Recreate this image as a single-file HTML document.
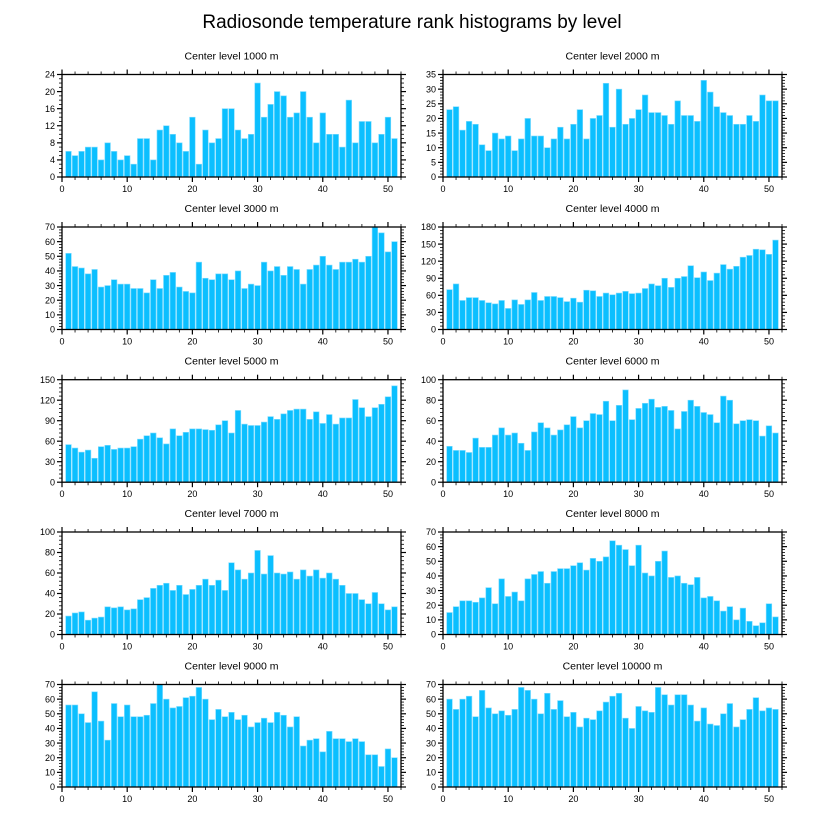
<!DOCTYPE html>
<html><head><meta charset="utf-8"><style>
html,body{margin:0;padding:0;background:#fff;}
svg{display:block;font-family:"Liberation Sans",sans-serif;}
</style></head><body>
<svg id="chart" width="824" height="824" viewBox="0 0 824 824" xmlns="http://www.w3.org/2000/svg">
<rect width="824" height="824" fill="#fff"/>
<text x="412" y="28" text-anchor="middle" font-size="19">Radiosonde temperature rank histograms by level</text>
</svg>
<script>
const levels = ["1000","2000","3000","4000","5000","6000","7000","8000","9000","10000"];
const yMaxes = [24,35,70,180,150,100,100,70,70,70];
const ySteps = [4,5,10,30,30,20,20,10,10,10];
const xTicks = [0,10,20,30,40,50];
const counts1000 = [6,5,6,7,7,4,8,6,4,5,3,9,9,4,11,12,10,8,6,14,3,11,8,9,16,16,11,9,10,22,14,17,20,19,14,15,20,14,8,15,10,10,7,18,8,13,13,8,10,14,9];
const counts2000 = [23,24,16,19,18,11,9,15,13,14,9,13,20,14,14,10,13,17,13,18,23,13,20,21,32,17,30,18,20,23,28,22,22,21,18,26,21,21,19,33,29,24,22,21,18,18,21,19,28,26,26];
const counts3000 = [52,43,42,38,41,29,30,34,31,31,28,28,25,34,28,37,39,29,26,25,46,35,34,38,38,34,40,28,31,30,46,40,43,37,43,41,31,41,44,50,44,41,46,46,48,46,50,70,66,53,60];
const counts4000 = [70,80,51,56,56,51,47,45,51,37,52,44,52,65,51,58,58,56,49,55,48,69,68,58,64,61,64,67,63,64,72,80,77,90,74,90,93,112,91,101,86,99,114,106,111,127,130,141,140,132,157];
const counts5000 = [55,50,44,47,35,52,54,48,50,50,52,63,68,72,65,56,78,68,73,78,78,77,76,84,90,72,105,85,83,83,88,96,92,100,105,107,107,92,103,86,99,85,94,94,121,109,96,109,114,125,141];
const counts6000 = [35,31,31,29,43,34,34,46,53,46,48,38,31,49,58,53,46,51,56,64,53,60,67,66,79,60,75,90,61,72,77,81,73,74,70,52,69,80,74,68,66,58,84,80,57,60,61,60,45,55,48];
const counts7000 = [18,21,22,14,16,17,27,26,27,24,25,34,36,45,48,50,43,48,39,44,48,54,48,53,43,70,63,54,60,82,59,77,60,59,61,54,63,57,63,55,60,54,48,40,40,34,30,41,30,24,27];
const counts8000 = [15,19,23,23,22,25,32,21,38,26,29,23,38,41,43,35,43,45,45,47,49,44,52,50,53,64,61,58,47,61,42,40,50,57,39,40,35,34,39,25,26,23,16,19,10,18,9,6,8,21,12];
const counts9000 = [56,56,50,44,65,45,32,57,48,56,48,48,49,57,70,60,54,55,61,62,68,60,46,53,48,51,46,49,41,44,47,44,51,49,41,48,28,32,33,24,38,33,33,31,33,31,22,22,14,26,20];
const counts10000 = [60,53,60,62,48,66,54,50,52,49,53,68,66,60,50,64,53,59,48,51,41,47,46,52,58,62,64,47,40,55,52,51,68,63,56,63,63,56,45,54,43,42,50,57,41,46,53,61,52,54,53];
const allCounts = [counts1000,counts2000,counts3000,counts4000,counts5000,counts6000,counts7000,counts8000,counts9000,counts10000];

const NS = "http://www.w3.org/2000/svg";
const svg = document.getElementById("chart");
function mk(tag, attrs, parent){ const e=document.createElementNS(NS,tag); for(const k in attrs) e.setAttribute(k,attrs[k]); (parent||svg).appendChild(e); return e; }
const colX = [62,443], W = 339, H = 102.5;
const rowY = [74.5,227,379.7,532,684.5];
const XMAX = 52;
for (let p=0;p<10;p++){
  const x0 = colX[p%2], y0 = rowY[Math.floor(p/2)];
  const g = mk("g",{});
  
  
  const xs = v => x0 + v/XMAX*W;
  const ys = v => y0 + H - v/yMaxes[p]*H;
  const t = mk("text",{x:x0+W/2,y:y0-15,"text-anchor":"middle","font-size":"10.5"},g);
  t.textContent = "Center level " + levels[p] + " m";
  
  
  const data = allCounts[p];
  data.forEach((v,i)=>{
    const c = i+1;
    const r = mk("rect",{x:xs(c-0.43),y:ys(v),width:xs(c+0.43)-xs(c-0.43),height:ys(0)-ys(v),fill:"#0bbfff",stroke:"#7fdcff","stroke-width":"0.6"},g);
    
    
  });
  mk("rect",{x:x0,y:y0,width:W,height:H,fill:"none",stroke:"#000","stroke-width":"1.3"},g);
  // x ticks
  for (let v=0; v<=XMAX; v+=2){
    const major = v%10===0, L = major?5:3, X = xs(v);
    mk("line",{x1:X,x2:X,y1:y0+H,y2:y0+H+L,stroke:"#000","stroke-width":major?1.2:0.8},g);
    mk("line",{x1:X,x2:X,y1:y0,y2:y0-L,stroke:"#000","stroke-width":major?1.2:0.8},g);
  }
  xTicks.forEach(v=>{
    const tl = mk("text",{x:xs(v),y:y0+H+15,"text-anchor":"middle","font-size":"9"},g);
    tl.textContent = v;
    
    
  });
  const step = ySteps[p], minor = step/ (step%4===0 && step<=4 ? 4 : 5);
  for (let k=0; k*minor<=yMaxes[p]+1e-9; k++){
    const v = k*minor, Y = ys(v), major = Math.abs(v/step - Math.round(v/step))<1e-6, L = major?5:3;
    mk("line",{x1:x0,x2:x0-L,y1:Y,y2:Y,stroke:"#000","stroke-width":major?1.2:0.8},g);
    mk("line",{x1:x0+W,x2:x0+W+L,y1:Y,y2:Y,stroke:"#000","stroke-width":major?1.2:0.8},g);
  }
  for (let v=0; v<=yMaxes[p]+1e-9; v+=step){
    const tl = mk("text",{x:x0-7,y:ys(v)+3.2,"text-anchor":"end","font-size":"9"},g);
    tl.textContent = v;
    
    
  }
}
</script>
</body></html>
